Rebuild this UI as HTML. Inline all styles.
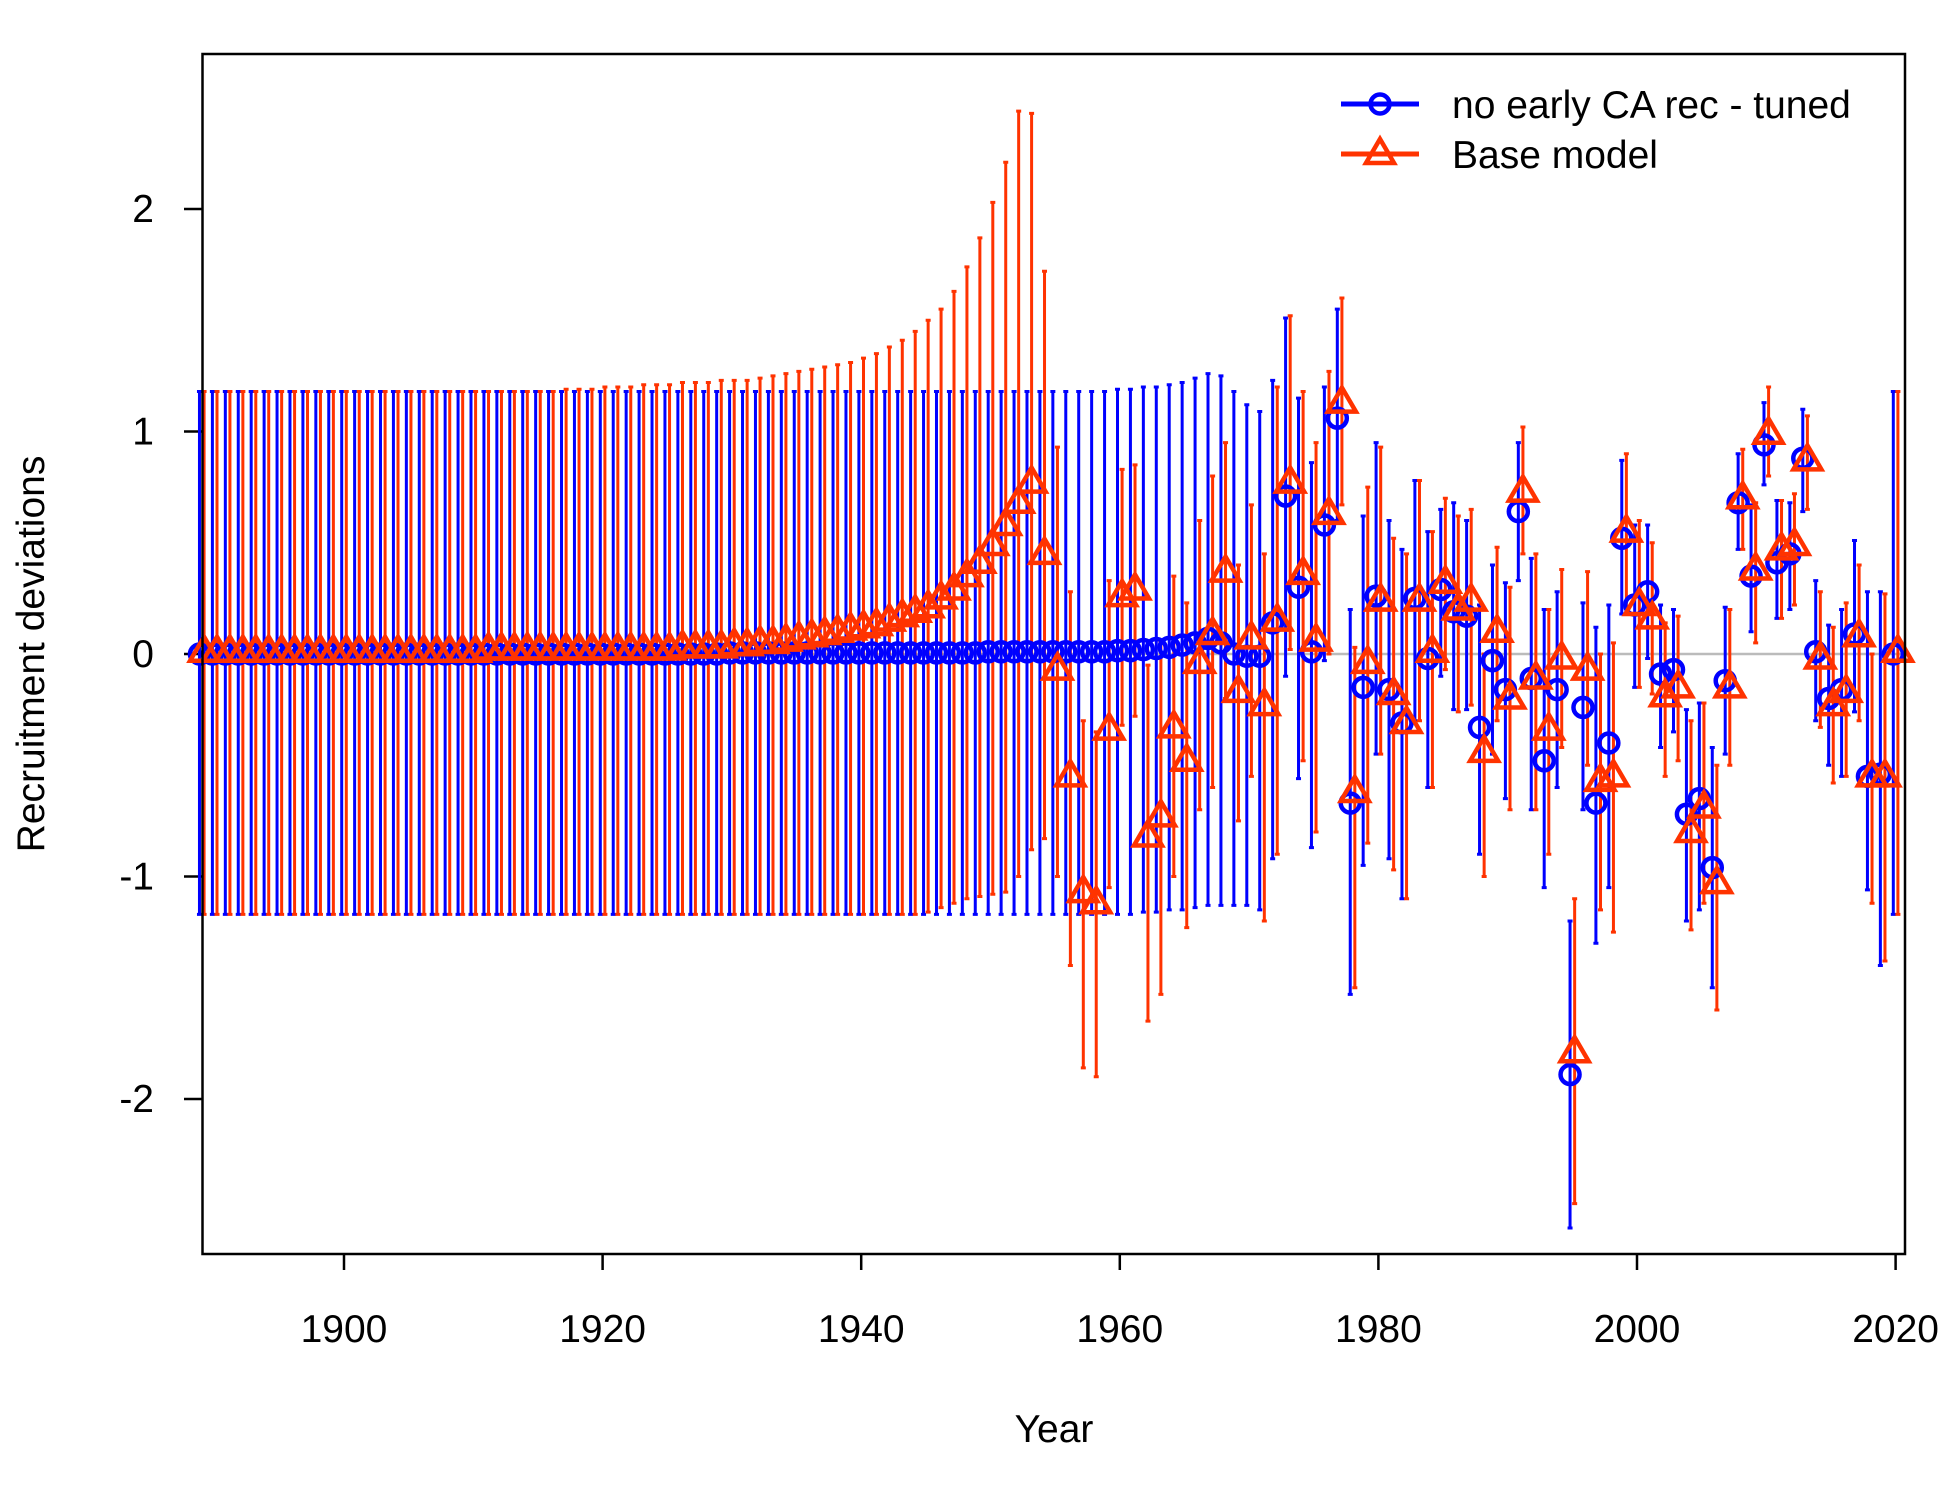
<!DOCTYPE html>
<html><head><meta charset="utf-8"><style>
html,body{margin:0;padding:0;background:#fff;}
svg text{font-family:"Liberation Sans",Arial,sans-serif;fill:#000;}
</style></head><body>
<svg id="chart" width="1950" height="1500" viewBox="0 0 1950 1500" xmlns="http://www.w3.org/2000/svg">
<rect x="0" y="0" width="1950" height="1500" fill="#fff"/>
<g id="axes"></g>
<g id="marks"></g>
<rect x="202.5" y="54" width="1702.5" height="1200" fill="none" stroke="#000" stroke-width="2.5"/>
<text x="1054" y="1442" font-size="39" text-anchor="middle">Year</text>
<text x="44" y="654" font-size="39" text-anchor="middle" transform="rotate(-90 44 654)">Recruitment deviations</text>
<g>
<g>
<line x1="1341" y1="104" x2="1419" y2="104" stroke="#0000ff" stroke-width="5"/>
<circle cx="1380" cy="104" r="9.5" fill="none" stroke="#0000ff" stroke-width="4.5"/>
<text x="1452" y="118" font-size="39">no early CA rec - tuned</text>
</g>
<g>
<line x1="1341" y1="154" x2="1419" y2="154" stroke="#ff3300" stroke-width="5"/>
<polygon points="1380,139 1394,163 1366,163" fill="none" stroke="#ff3300" stroke-width="4.5"/>
<text x="1452" y="168" font-size="39">Base model</text>
</g>
</g>
</svg>
<script>
const startYear = 1889;
const blueVal = [0,0,0,0,0,0,0,0,0,0,0,0,0,0,0,0,0,0,0,0,0,0,0,0,0,0,0,0,0,0,0,0,0,0,0,0,0,0,0,0,0,
0.005,0.005,0.005,0.005,0.005,0.005,0.005,0.005,0.005,0.005,0.005,0.005,0.005,0.005,0.005,0.005,0.005,0.005,0.005,0.005,
0.01,0.01,0.01,0.01,0.01,0.01,0.01,0.01,0.01,0.01,
0.015,0.015,0.02,0.025,0.03,0.04,0.05,0.07,0.05,
0.0,-0.01,-0.01,0.14,0.71,0.3,0.01,0.58,1.06,-0.67,-0.15,0.26,-0.16,-0.31,0.25,-0.02,0.29,0.19,0.17,-0.33,-0.03,-0.16,0.64,-0.11,-0.48,-0.16,-1.89,-0.24,-0.67,-0.4,0.52,0.22,0.28,-0.09,-0.07,-0.72,-0.65,-0.96,-0.12,0.68,0.35,0.94,0.41,0.45,0.88,0.01,-0.2,-0.16,0.09,-0.55,-0.54,0.0];
const blueHi = [1.18,1.18,1.18,1.18,1.18,1.18,1.18,1.18,1.18,1.18,1.18,1.18,1.18,1.18,1.18,1.18,1.18,1.18,1.18,1.18,1.18,1.18,1.18,1.18,1.18,1.18,1.18,1.18,1.18,1.18,1.18,1.18,1.18,1.18,1.18,1.18,1.18,1.18,1.18,1.18,1.18,1.18,1.18,1.18,1.18,1.18,1.18,1.18,1.18,1.18,1.18,1.18,1.18,1.18,1.18,1.18,1.18,1.18,1.18,1.18,1.18,1.18,1.18,1.18,1.18,1.18,1.18,1.18,1.18,1.18,1.18,
1.19,1.19,1.2,1.2,1.21,1.22,1.24,1.26,1.25,
1.18,1.12,1.09,1.23,1.51,1.15,0.86,1.2,1.55,0.2,0.62,0.95,0.6,0.47,0.78,0.55,0.65,0.68,0.6,0.22,0.4,0.32,0.95,0.43,0.2,0.28,-1.2,0.23,0.12,0.22,0.87,0.58,0.58,0.22,0.2,-0.25,-0.22,-0.42,0.21,0.9,0.67,1.13,0.69,0.68,1.1,0.33,0.13,0.2,0.51,0.28,0.28,1.18];
const blueLo = [-1.17,-1.17,-1.17,-1.17,-1.17,-1.17,-1.17,-1.17,-1.17,-1.17,-1.17,-1.17,-1.17,-1.17,-1.17,-1.17,-1.17,-1.17,-1.17,-1.17,-1.17,-1.17,-1.17,-1.17,-1.17,-1.17,-1.17,-1.17,-1.17,-1.17,-1.17,-1.17,-1.17,-1.17,-1.17,-1.17,-1.17,-1.17,-1.17,-1.17,-1.17,-1.17,-1.17,-1.17,-1.17,-1.17,-1.17,-1.17,-1.17,-1.17,-1.17,-1.17,-1.17,-1.17,-1.17,-1.17,-1.17,-1.17,-1.17,-1.17,-1.17,-1.17,-1.17,-1.17,-1.17,-1.17,-1.17,-1.17,-1.17,-1.17,-1.17,
-1.17,-1.17,-1.16,-1.16,-1.15,-1.15,-1.14,-1.13,-1.13,
-1.13,-1.13,-1.15,-0.92,-0.1,-0.56,-0.87,-0.03,0.6,-1.53,-0.95,-0.45,-0.92,-1.1,-0.3,-0.6,-0.1,-0.25,-0.25,-0.9,-0.45,-0.65,0.33,-0.7,-1.05,-0.6,-2.58,-0.7,-1.3,-1.05,0.18,-0.15,-0.02,-0.42,-0.35,-1.2,-1.15,-1.5,-0.45,0.47,0.1,0.76,0.16,0.2,0.64,-0.3,-0.5,-0.55,-0.26,-1.06,-1.4,-1.17];
const baseVal = [0.01,0.01,0.01,0.01,0.01,0.01,0.01,0.01,0.01,0.01,0.01,0.01,0.01,0.01,0.01,0.01,0.01,0.01,0.01,0.01,0.01,0.01,
0.02,0.02,0.02,0.02,0.02,0.02,0.02,0.02,0.02,0.02,0.02,0.02,0.02,0.02,0.02,
0.03,0.03,0.03,0.03,
0.04,0.04,0.05,0.05,0.06,0.07,0.08,0.09,0.1,0.11,0.12,0.13,0.15,0.17,0.19,0.21,0.25,0.29,0.35,0.41,0.49,0.58,0.68,0.77,
0.45,-0.07,-0.55,-1.07,-1.12,-0.34,0.26,0.29,-0.82,-0.73,-0.33,-0.48,-0.04,0.09,0.37,-0.17,0.07,-0.23,0.15,0.77,0.36,0.06,0.63,1.13,-0.62,-0.04,0.24,-0.18,-0.31,0.24,0.01,0.32,0.2,0.24,-0.44,0.1,-0.2,0.73,-0.11,-0.34,-0.02,-1.79,-0.07,-0.57,-0.55,0.55,0.22,0.16,-0.19,-0.15,-0.8,-0.69,-1.03,-0.15,0.7,0.38,0.99,0.47,0.49,0.87,-0.02,-0.23,-0.17,0.08,-0.55,-0.55,0.01];
const baseHi = [1.18,1.18,1.18,1.18,1.18,1.18,1.18,1.18,1.18,1.18,1.18,1.18,1.18,1.18,1.18,1.18,1.18,1.18,1.18,1.18,1.18,1.18,1.18,1.18,1.18,1.18,1.18,
1.18,1.19,1.19,1.19,1.2,1.2,1.2,1.21,1.21,1.21,1.22,1.22,1.22,1.23,
1.23,1.23,1.24,1.25,1.26,1.27,1.28,1.29,1.3,1.31,1.33,1.35,1.38,1.41,1.45,1.5,1.55,1.63,1.74,1.87,2.03,2.21,2.44,2.43,
1.72,0.93,0.28,-0.3,-0.35,0.33,0.83,0.85,-0.05,0.05,0.35,0.23,0.6,0.8,0.95,0.4,0.67,0.45,1.2,1.52,1.18,0.95,1.27,1.6,0.03,0.75,0.93,0.52,0.45,0.78,0.55,0.7,0.62,0.65,0.0,0.48,0.3,1.02,0.45,0.2,0.38,-1.1,0.37,0.0,0.05,0.9,0.6,0.5,0.14,0.17,-0.3,-0.22,-0.5,0.2,0.92,0.68,1.2,0.69,0.72,1.07,0.28,0.12,0.23,0.4,0.0,0.27,1.18];
const baseLo = [-1.17,-1.17,-1.17,-1.17,-1.17,-1.17,-1.17,-1.17,-1.17,-1.17,-1.17,-1.17,-1.17,-1.17,-1.17,-1.17,-1.17,-1.17,-1.17,-1.17,-1.17,-1.17,-1.17,-1.17,-1.17,-1.17,-1.17,-1.17,-1.17,-1.17,-1.17,-1.17,-1.17,-1.17,-1.17,-1.17,-1.17,-1.17,-1.17,-1.17,-1.17,-1.17,-1.17,-1.17,-1.17,-1.17,-1.17,-1.17,-1.17,-1.17,-1.17,-1.17,-1.17,-1.17,-1.17,-1.17,
-1.16,-1.14,-1.12,-1.1,-1.09,-1.08,-1.07,-1.0,-0.88,
-0.83,-1.0,-1.4,-1.86,-1.9,-1.05,-0.32,-0.28,-1.65,-1.53,-1.0,-1.23,-0.7,-0.6,-0.2,-0.75,-0.55,-1.2,-0.9,0.02,-0.48,-0.8,0.0,0.67,-1.5,-0.85,-0.45,-0.97,-1.1,-0.3,-0.6,-0.07,-0.26,-0.23,-1.0,-0.3,-0.7,0.45,-0.7,-0.9,-0.42,-2.47,-0.5,-1.15,-1.25,0.21,-0.15,-0.18,-0.55,-0.48,-1.24,-1.12,-1.6,-0.5,0.47,0.05,0.8,0.16,0.22,0.65,-0.33,-0.58,-0.55,-0.3,-1.12,-1.38,-1.17];
const xTicks = [1900,1920,1940,1960,1980,2000,2020];
const yTicks = [-2,-1,0,1,2];

const NS = "http://www.w3.org/2000/svg";
function xS(yr){ return 344 + (yr - 1900) * 12.93; }
function yS(v){ return 654 - v * 222.5; }
function mk(tag, attrs, parent){
  const e = document.createElementNS(NS, tag);
  for (const k in attrs) e.setAttribute(k, attrs[k]);
  parent.appendChild(e);
  return e;
}
const axes = document.getElementById('axes');
const marks = document.getElementById('marks');

const zl = mk('line', {x1:202.5, x2:1905, y1:yS(0), y2:yS(0), stroke:'#bbbbbb', 'stroke-width':2.5}, axes);



xTicks.forEach(t => {
  const g = mk('g', {}, axes);
  
  
  mk('line', {x1:xS(t), x2:xS(t), y1:1254, y2:1270, stroke:'#000', 'stroke-width':2.5}, g);
  const tx = mk('text', {x:xS(t), y:1342, 'font-size':39, 'text-anchor':'middle'}, g);
  tx.textContent = t;
});
yTicks.forEach(t => {
  const g = mk('g', {}, axes);
  
  
  mk('line', {x1:184, x2:202.5, y1:yS(t), y2:yS(t), stroke:'#000', 'stroke-width':2.5}, g);
  const tx = mk('text', {x:154, y:yS(t) + 13, 'font-size':39, 'text-anchor':'end'}, g);
  tx.textContent = t;
});

function drawBars(vals, hi, lo, off, color, name){
  const g = mk('g', {stroke:color, 'stroke-width':3}, marks);
  
  
  vals.forEach((v, i) => {
    const x = xS(startYear + i) + off;
    const b = mk('path', {d:`M${x},${yS(hi[i])}V${yS(lo[i])}M${x-2.5},${yS(hi[i])}H${x+2.5}M${x-2.5},${yS(lo[i])}H${x+2.5}`, fill:'none'}, g);
    
    
  });
}
drawBars(blueVal, blueHi, blueLo, -2.3, '#0000ff', 'no-early-ca-rec');
drawBars(baseVal, baseHi, baseLo, 2.3, '#ff3300', 'base-model');
const gb = mk('g', {fill:'none', stroke:'#0000ff', 'stroke-width':4.5}, marks);


blueVal.forEach((v, i) => {
  const c = mk('circle', {cx:xS(startYear + i) - 2.3, cy:yS(v), r:9.5}, gb);
  
  
});
const go = mk('g', {fill:'none', stroke:'#ff3300', 'stroke-width':4.5}, marks);


baseVal.forEach((v, i) => {
  const x = xS(startYear + i) + 2.3, y = yS(v);
  const p = mk('polygon', {points:`${x},${y-15} ${x+14},${y+9} ${x-14},${y+9}`}, go);
  
  
});
</script>
</body></html>
